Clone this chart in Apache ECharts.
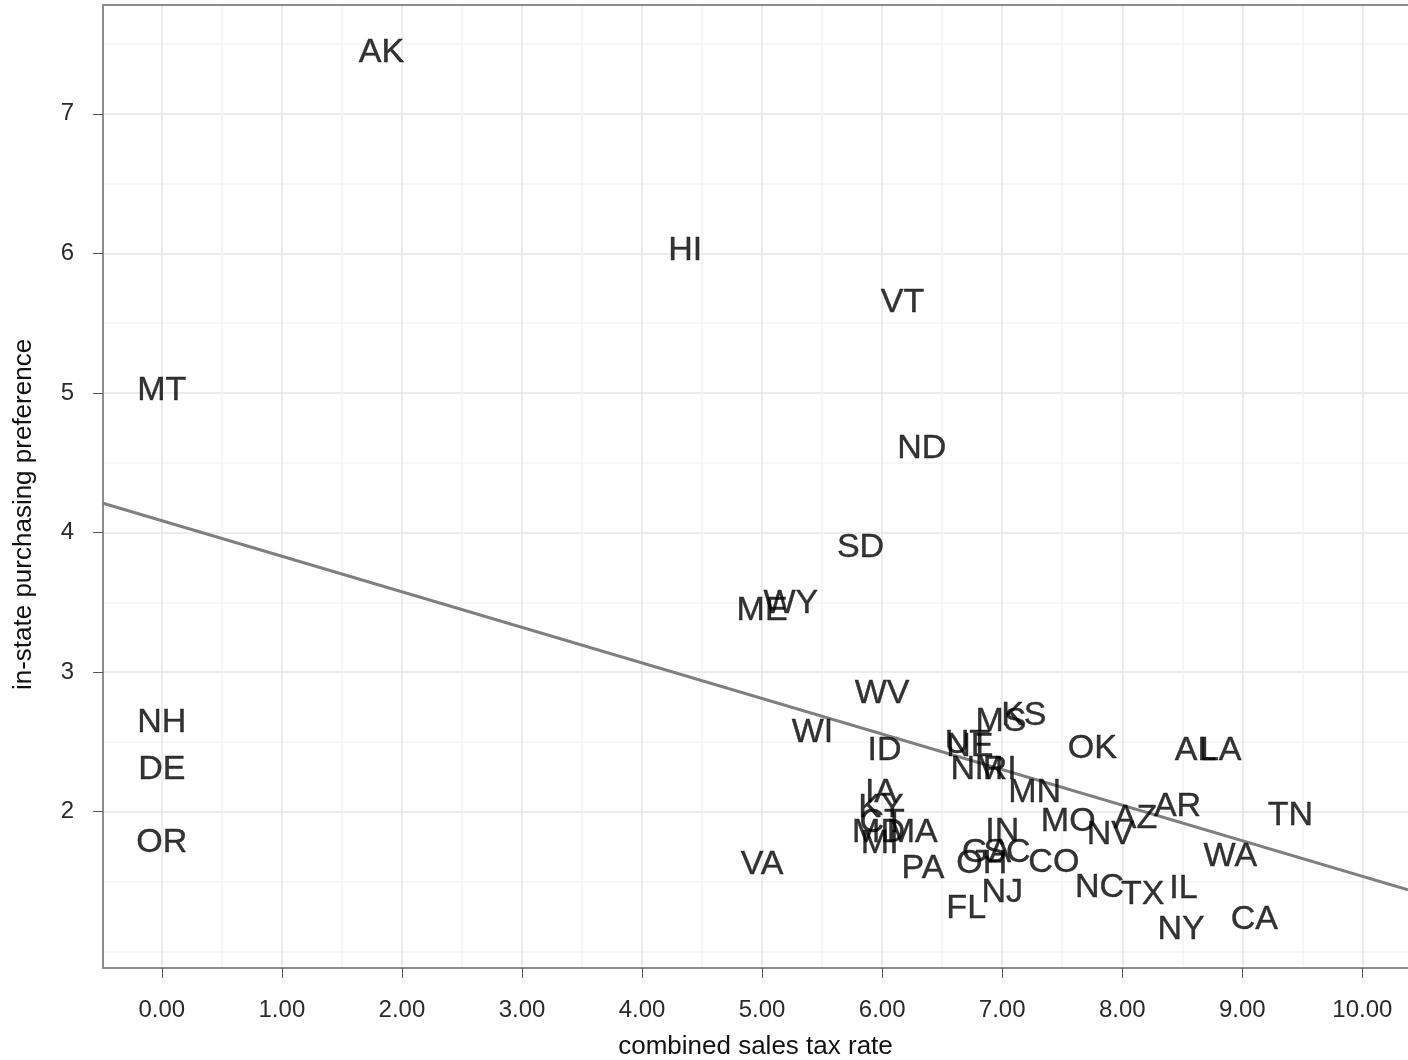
<!DOCTYPE html>
<html>
<head>
<meta charset="utf-8">
<script src="https://cdn.jsdelivr.net/npm/echarts@6/dist/echarts.min.js"></script>
<style>
html,body{margin:0;padding:0;background:#fff;}
#chart{width:1408px;height:1060px;}
</style>
</head>
<body>
<div id="chart"></div>
<script>
const states = ['AK','HI','VT','MT','ND','SD','WY','ME','WV','NH','WI','KS','MS','UT','NE','ID','OK','AL','LA','NM','RI','DE','MN','IA','KY','AR','TN','AZ','MO','NV','CT','OR','MD','MA','IN','MI','GA','SC','OH','CO','VA','PA','WA','NC','TX','IL','NJ','FL','CA','NY'];
const taxRate = [1.83,4.36,6.17,0.00,6.33,5.82,5.24,5.00,6.00,0.00,5.42,7.18,6.99,6.71,6.73,6.02,7.75,8.61,8.82,6.79,6.98,0.00,7.27,5.99,5.99,8.46,9.40,8.11,7.55,7.90,6.00,0.00,5.97,6.25,7.00,5.98,6.87,7.04,6.83,7.43,5.00,6.34,8.90,7.81,8.17,8.51,7.00,6.70,9.10,8.49];
const preference = [7.46,6.04,5.67,5.04,4.62,3.91,3.51,3.46,2.87,2.66,2.59,2.71,2.67,2.51,2.49,2.46,2.47,2.46,2.46,2.32,2.32,2.32,2.16,2.16,2.05,2.06,1.99,1.97,1.95,1.86,1.94,1.80,1.87,1.87,1.88,1.79,1.73,1.73,1.65,1.66,1.64,1.61,1.70,1.48,1.43,1.47,1.44,1.33,1.25,1.18];
const fitX = [-0.49, 10.38];
const fitY = [4.21, 1.44];
const xTicks = [0,1,2,3,4,5,6,7,8,9,10];
const xMinor = [-0.5,0.5,1.5,2.5,3.5,4.5,5.5,6.5,7.5,8.5,9.5];
const yTicks = [2,3,4,5,6,7];
const yMinor = [1,1.5,2.5,3.5,4.5,5.5,6.5,7.5];

const X_MIN = -0.49, X_MAX = 10.38, Y_MIN = 0.88, Y_MAX = 7.78;
const majorColor = '#e6e6e6', minorColor = '#f3f3f3';
const axisColor = '#8c8c8c';
const font = 'Liberation Sans, Arial, sans-serif';

const pts = states.map((s,i)=>({name:s, value:[taxRate[i], preference[i]]}));
const fit = fitX.map((x,i)=>[x, fitY[i]]);

const chart = echarts.init(document.getElementById('chart'), null, {renderer:'canvas'});
chart.setOption({
  animation:false,
  backgroundColor:'#ffffff',
  textStyle:{fontFamily:font},
  grid:{left:103, top:5, right:0, bottom:92, containLabel:false, outerBoundsMode:'none'},
  xAxis:[{
    type:'value', min:X_MIN, max:X_MAX, position:'bottom',
    axisLine:{show:true, onZero:false, lineStyle:{color:axisColor, width:2}},
    axisTick:{show:true, customValues:xTicks, length:10, lineStyle:{color:'#555', width:1}},
    axisLabel:{customValues:xTicks, formatter:v=>v.toFixed(2), fontSize:24, color:'#2a2a2a', margin:30, fontFamily:font},
    splitLine:{show:true, lineStyle:{color:majorColor, width:1.5}},
    name:'combined sales tax rate', nameLocation:'middle', nameGap:66,
    nameTextStyle:{fontSize:26, color:'#111', fontFamily:font}
  },{
    type:'value', min:X_MIN, max:X_MAX, position:'top',
    axisLine:{show:true, onZero:false, lineStyle:{color:axisColor, width:2}},
    axisTick:{show:false, customValues:xMinor},
    axisLabel:{show:false},
    splitLine:{show:true, lineStyle:{color:minorColor, width:1.5}}
  }],
  yAxis:[{
    type:'value', min:Y_MIN, max:Y_MAX, position:'left',
    axisLine:{show:true, onZero:false, lineStyle:{color:axisColor, width:2}},
    axisTick:{show:true, customValues:yTicks, length:10, lineStyle:{color:'#555', width:1}},
    axisLabel:{customValues:yTicks, formatter:v=>String(v), fontSize:24, color:'#2a2a2a', margin:29, fontFamily:font},
    splitLine:{show:true, lineStyle:{color:majorColor, width:1.5}},
    name:'in-state purchasing preference', nameLocation:'middle', nameGap:66, nameRotate:90,
    nameTextStyle:{fontSize:26, color:'#111', fontFamily:font, padding:[0,56,0,0]}
  },{
    type:'value', min:Y_MIN, max:Y_MAX, position:'right',
    axisLine:{show:false, onZero:false},
    axisTick:{show:false, customValues:yMinor},
    axisLabel:{show:false},
    splitLine:{show:true, lineStyle:{color:minorColor, width:1.5}}
  }],
  series:[{
    type:'line', xAxisIndex:0, yAxisIndex:0, data:fit, symbol:'none', z:3,
    lineStyle:{color:'#7f7f7f', width:3}, silent:true
  },{
    type:'scatter', xAxisIndex:0, yAxisIndex:0, data:pts, symbolSize:0, z:4,
    itemStyle:{color:'transparent'},
    label:{show:true, position:'inside', offset:[0,3], formatter:p=>p.name, fontSize:34, color:'#000', textBorderColor:'#000', textBorderWidth:0.4, fontFamily:font}
  }]
});
</script>
</body>
</html>
